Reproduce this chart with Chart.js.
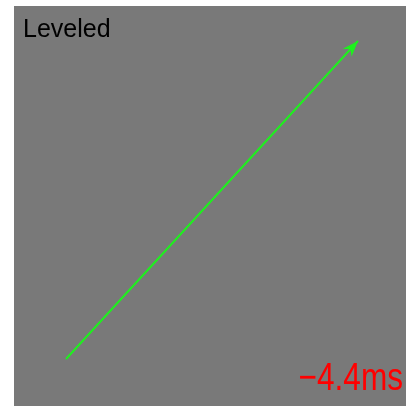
<!DOCTYPE html>
<html lang="en">
<head>
    <meta charset="UTF-8">
    <title>Leveled</title>
    <script src="https://cdn.jsdelivr.net/npm/chart.js"></script>
    <style>
        body { margin: 0; background: #fff; }
        .panel { position: absolute; left: 14px; top: 6px; width: 392px; height: 400px; background: #797979; }
        canvas { display: block; }
    </style>
</head>
<body>
    <div class="panel"><canvas id="arrowChart" width="392" height="400"></canvas></div>

    <script>
        // values (panel coordinates, y up)
        const arrowX = [52, 344];
        const arrowY = [47, 365];
        const titleText = 'Leveled';
        const offsetText = '\u22124.4ms';

        const green = '#1ef01e';

        // arrowhead + labels
        const overlay = {
            id: 'overlay',
            afterDatasetsDraw(chart) {
                const { ctx, scales } = chart;
                const x0 = scales.x.getPixelForValue(arrowX[0]);
                const y0 = scales.y.getPixelForValue(arrowY[0]);
                const x1 = scales.x.getPixelForValue(arrowX[1]);
                const y1 = scales.y.getPixelForValue(arrowY[1]);
                const a = Math.atan2(y1 - y0, x1 - x0);
                const len = 16, half = 6;
                ctx.save();
                ctx.fillStyle = green;
                ctx.beginPath();
                ctx.moveTo(x1, y1);
                ctx.lineTo(x1 - len * Math.cos(a) + half * Math.sin(a), y1 - len * Math.sin(a) - half * Math.cos(a));
                ctx.lineTo(x1 - len * 0.7 * Math.cos(a), y1 - len * 0.7 * Math.sin(a));
                ctx.lineTo(x1 - len * Math.cos(a) - half * Math.sin(a), y1 - len * Math.sin(a) + half * Math.cos(a));
                ctx.closePath();
                ctx.fill();

                ctx.fillStyle = '#000';
                ctx.font = '25px "Liberation Sans", Arial, sans-serif';
                ctx.textBaseline = 'alphabetic';
                ctx.fillText(titleText, 9, 31);

                // condensed red label
                ctx.fillStyle = '#ff0000';
                ctx.font = '39px "Liberation Sans", Arial, sans-serif';
                ctx.textAlign = 'right';
                ctx.translate(389, 384);
                ctx.scale(0.81, 1);
                ctx.fillText(offsetText, 0, 0);
                ctx.restore();
            }
        };

        new Chart(document.getElementById('arrowChart').getContext('2d'), {
            type: 'scatter',
            data: {
                datasets: [{
                    data: arrowX.map((x, i) => ({ x, y: arrowY[i] })),
                    showLine: true,
                    borderColor: green,
                    borderWidth: 2,
                    pointRadius: 0,
                }],
            },
            options: {
                responsive: false,
                animation: false,
                layout: { padding: 0 },
                plugins: { legend: { display: false }, tooltip: { enabled: false } },
                scales: {
                    x: { display: false, min: 0, max: 392 },
                    y: { display: false, min: 0, max: 400 },
                },
            },
            plugins: [overlay],
        });
    </script>
</body>
</html>
